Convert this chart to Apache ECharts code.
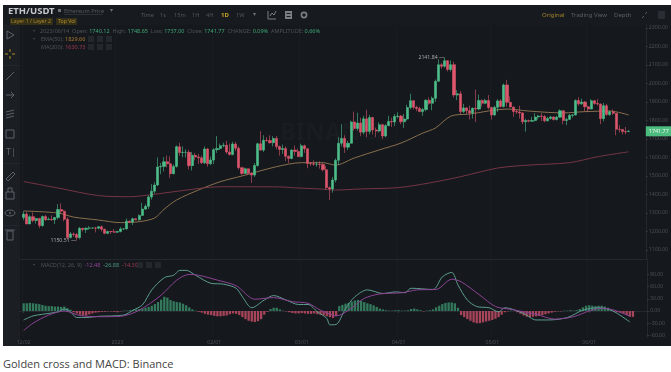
<!DOCTYPE html>
<html>
<head>
<meta charset="utf-8">
<title>Golden cross and MACD</title>
<script src="https://cdn.jsdelivr.net/npm/echarts@6/dist/echarts.min.js"></script>
<style>
html,body{margin:0;padding:0;background:#fff;}
#chart{position:absolute;left:0;top:0;width:671px;height:346px;filter:blur(0.6px);}
#caption{position:absolute;left:3px;top:356px;margin:0;font:11px "Open Sans",sans-serif;color:#444;}
</style>
</head>
<body>
<div id="chart"></div>
<p id="caption">Golden cross and MACD: Binance</p>
<script>
/* daily candles, first one is 2022/12/02 */
const opens=[1275,1294,1241,1280,1259,1270,1232,1281,1264,1266,1263,1275,1319,1310,1266,1167,1187,1184,1167,1217,1211,1218,1219,1219,1218,1226,1212,1190,1200,1199,
1196,1200,1214,1214,1256,1251,1269,1263,1287,1321,1336,1386,1418,1451,1549,1552,1577,1566,1512,1552,1658,1627,1628,1628,1556,1612,1603,1598,1571,1646,1566,
1586,1642,1649,1663,1666,1630,1616,1673,1650,1545,1514,1539,1515,1505,1557,1674,1640,1693,1692,1680,1703,1659,1643,1649,1607,1595,1640,1633,
1605,1663,1647,1568,1566,1564,1564,1562,1534,1437,1430,1478,1585,1677,1703,1656,1677,1792,1757,1786,1737,1809,1741,1816,1749,1743,1777,1716,1772,1795,1792,
1822,1824,1793,1808,1870,1907,1871,1865,1848,1859,1909,1893,1920,2012,2101,2093,2123,2076,2102,1938,1944,1848,1868,1853,1841,1866,1862,1908,1893,1908,
1870,1830,1871,1906,1876,1992,1898,1873,1849,1846,1841,1793,1800,1796,1800,1819,1824,1822,1798,1811,1819,1805,1818,1853,1800,1806,1828,1830,1908,1890,1900,
1874,1862,1907,1892,1889,1810,1880,1832,1847,1839,1753,1752,1740,1740.12];
const closes=[1294,1241,1280,1259,1270,1232,1281,1264,1266,1263,1275,1319,1310,1266,1167,1187,1184,1167,1217,1211,1218,1219,1219,1218,1226,1212,1190,1200,1199,1196,
1200,1214,1214,1256,1251,1269,1263,1287,1321,1336,1386,1418,1451,1549,1552,1577,1566,1512,1552,1658,1627,1628,1628,1556,1612,1603,1598,1571,1646,1566,1586,
1642,1649,1663,1666,1630,1616,1673,1650,1545,1514,1539,1515,1505,1557,1674,1640,1693,1692,1680,1703,1659,1643,1649,1607,1595,1640,1633,1605,
1663,1647,1568,1566,1564,1564,1562,1534,1437,1430,1478,1585,1677,1703,1656,1677,1792,1757,1786,1737,1809,1741,1816,1749,1743,1777,1716,1772,1795,1792,1822,
1824,1793,1808,1870,1907,1871,1865,1848,1859,1909,1893,1920,2012,2101,2093,2123,2076,2102,1938,1944,1848,1868,1853,1841,1866,1862,1908,1893,1908,1870,
1830,1871,1906,1876,1992,1898,1873,1849,1846,1841,1793,1800,1796,1800,1819,1824,1822,1798,1811,1819,1805,1818,1853,1800,1806,1828,1830,1908,1890,1900,1874,
1862,1907,1892,1889,1810,1880,1832,1847,1839,1753,1752,1740,1738,1741.77];
const lows=[1261,1238,1240,1250,1243,1218,1225,1257,1262,1258,1240,1265,1298,1255,1156,1163,1172,1150.51,1158,1200,1192,1210,1215,1195,1212,1200,1185,1185,1187,1192,
1192,1195,1208,1212,1245,1235,1261,1259,1285,1316,1322,1372,1405,1446,1510,1525,1546,1490,1510,1545,1610,1601,1600,1535,1530,1585,1565,1565,1565,1550,1560,
1564,1625,1640,1655,1620,1610,1612,1635,1535,1505,1510,1505,1462,1495,1550,1635,1630,1685,1675,1660,1645,1610,1620,1580,1570,1590,1610,1602,
1600,1625,1542,1555,1555,1550,1540,1525,1425,1370,1410,1465,1560,1660,1625,1640,1675,1745,1745,1715,1725,1710,1725,1725,1710,1735,1700,1710,1770,1765,1770,
1812,1780,1760,1800,1860,1860,1850,1845,1825,1850,1885,1855,1900,2010,2080,2086,2065,2065,1925,1910,1835,1840,1835,1805,1810,1792,1855,1875,1888,1860,
1805,1825,1845,1870,1870,1875,1870,1820,1835,1810,1780,1740,1790,1792,1795,1805,1797,1790,1795,1805,1800,1800,1815,1780,1775,1803,1816,1827,1880,1885,1850,
1845,1860,1885,1880,1780,1795,1825,1825,1830,1720,1735,1725,1725,1737];
const highs=[1310,1306,1288,1303,1274,1274,1286,1290,1276,1287,1279,1348,1352,1315,1277,1197,1195,1192,1225,1220,1222,1229,1222,1225,1230,1232,1216,1205,1203,1214,
1204,1224,1218,1270,1260,1274,1272,1292,1355,1347,1396,1456,1466,1600,1570,1602,1610,1606,1562,1665,1680,1660,1644,1642,1630,1625,1620,1610,1660,1651,1605,
1650,1716,1675,1680,1690,1675,1685,1685,1660,1550,1545,1540,1520,1570,1680,1742,1720,1710,1720,1715,1717,1665,1670,1660,1610,1645,1665,1648,
1675,1670,1650,1575,1585,1578,1580,1570,1555,1445,1495,1595,1710,1780,1720,1690,1800,1848,1842,1815,1825,1858,1830,1820,1762,1790,1782,1780,1825,1815,1835,
1845,1830,1835,1885,1945,1910,1880,1875,1868,1915,1925,1930,2022,2130,2110,2141.84,2126,2125,2118,1965,1960,1890,1872,1880,1870,1967,1940,1915,1918,1938,
1875,1880,1915,1915,2000,2020,1930,1875,1858,1880,1845,1810,1805,1820,1840,1830,1840,1830,1820,1825,1822,1825,1860,1855,1815,1835,1835,1915,1925,1918,1905,
1880,1915,1910,1915,1892,1895,1890,1855,1860,1840,1775,1750,1765,1748.65];

/* the averages, read every few days: day number from the first candle, then price */
const emaDays=[0,11,16,24,31,37,42,45,49,56,63,70,81,89,96,100,106,114,121,128,132,137,143,155,162,173,180,188,194];
const emaValues=[1311,1300,1278,1262,1248,1253,1273,1320,1370,1424,1469,1500,1550,1572,1572,1559,1597,1641,1678,1732,1759,1824,1835,1862,1851,1841,1848,1851,1829.66];
const maDays=[0,11,24,34,40,50,63,82,88,95,100,108,120,130,140,152,162,175,184,194];
const maValues=[1470,1435,1394,1388,1397,1419,1442,1441,1435,1430,1424,1430,1437,1462,1496,1543,1559,1572,1604,1630.73];

/* macd pane */
const macdBars=[19,19,20,19,18,17,15,13,12,12,11,11,10,11,7,3,-3,-6,-9,-11,-11,-8,-6,-4,-3,-2,-2,-1,-1,-2,-2,-1,1,
1,2,3,4,5,6,8,10,13,17,22,28,35,33,27,24,22,21,18,14,9,4,1,
-2,-4,-7,-9,-10,-12,-13,-13,-12,-11,-8,-6,-7,-10,-15,-20,-24,-26,-27,-25,-20,-9,-2,5,8,8,4,1,
-1,-3,-5,-6,-6,-5,-6,-7,-7,-6,-8,-9,-11,-13,-15,-17,-12,
12,15,18,20,23,26,27,25,22,19,17,14,10,6,4,2,1,1,2,2,1,1,2,5,6,4,2,-1,1,2,4,9,13,17,20,21,21,19,8,
-10,-15,-20,-24,-28,-30,-30,-28,-26,-24,-22,-19,-15,-9,-3,-1,1,0,-3,-7,-11,-14,-15,-14,-13,-12,-10,-8,-6,-4,-2,-1,-1,
1,1,2,1,2,5,9,13,14,13,12,13,13,11,8,4,-2,-3,-4,-6,-10,-14,-14.39];
const difDays=[0,3,6,11,13,15,17,20,24,32,35,38,41,45,48,50,52,55,60,64,68,70,73,77,80,84,88,91,94,97,98,100,103,106,110,115,119,122,124,131,134,137,139,142,145,149,152,154,160,164,168,174,179,184,187,190,194];
const difValues=[-22,-12,-8,-2,5,-2,-16,-16,-13,-10,2,15,52,82,88,100,100,88,68,66,56,35,8,27,38,27,16,16,-2,-18,-34,-33,6,35,52,43,47,45,56,53,84,95,64,27,11,8,-2,8,-6,-22,-22,-16,2,8,5,-6,-26.88];
const deaDays=[0,3,8,13,18,24,31,37,44,49,53,56,62,68,74,80,86,91,95,99,100,104,109,114,121,126,132,137,140,146,151,156,164,170,176,181,185,189,194];
const deaValues=[-48,-30,-10,0,-11,-14,-13,2,39,76,90,88,76,62,29,33,23,19,2,-10,-12,2,31,42,45,52,53,78,72,39,11,4,-8,-20,-14,0,7,2,-12.48];

const priceTicks=[1100,1200,1300,1400,1500,1600,1700,1800,1900,2000,2100,2200,2300];
const macdTicks=[-60,-30,0,30,60,90];
const dateTicks=["2022/12/02","2023/01/01","2023/02/01","2023/03/01","2023/04/01","2023/05/01","2023/06/01"];
const dateLabels=["12/02","2023","02/01","03/01","04/01","05/01","06/01"];

const UP="#4dbd89";
const DOWN="#dc566c";
const AXIS="#4d5258";
const LEAD=1;   // empty day before the first candle
const TRAIL=5;  // empty days after the last one

function buildDays(){
    const days=[];
    const start=Date.UTC(2022,11,1);
    for(let i=0;i<LEAD+opens.length+TRAIL;i++){
        days.push(new Date(start+i*86400000).toISOString().slice(0,10).replace(/-/g,"/"));
    }
    return days;
}
const days=buildDays();

const pad=Array(LEAD).fill("-");
const candles=pad.concat(opens.map((o,i)=>[o,closes[i],lows[i],highs[i]]));
const bars=pad.concat(macdBars.map(v=>({
    value:v,
    itemStyle:{color:v>=0?"#337a5d":"#a8455a"}
})));
const pairs=(d,v)=>d.map((x,i)=>[x+LEAD,v[i]]);
const lastDay=days[LEAD+opens.length-1];
const highDay=days[LEAD+highs.indexOf(Math.max(...highs))];
const lowDay=days[LEAD+lows.indexOf(Math.min(...lows))];

/* page furniture: header, left toolbar, legends */
function txt(text,x,y,fill,size,extra){
    return {type:"text",silent:true,z:10,style:Object.assign({
        text,x,y,fill,
        font:(size||6)+'px "Noto Sans",sans-serif',
        verticalAlign:"middle"
    },extra||{})};
}
function box(x,y,w,h,fill,z){
    return {type:"rect",silent:true,z:z===undefined?10:z,shape:{x,y,width:w,height:h},style:{fill}};
}
function path(points,stroke,closed){
    return {type:closed?"polygon":"polyline",silent:true,z:10,shape:{points},style:{stroke,fill:null,lineWidth:1}};
}
function rich(text,x,y,colors){
    const styles={};
    Object.keys(colors).forEach(k=>{
        styles[k]={fill:colors[k],font:'5.5px "Noto Sans",sans-serif'};
    });
    return {type:"text",silent:true,z:10,style:{x,y,verticalAlign:"middle",font:'5.5px "Noto Sans",sans-serif',text,rich:styles}};
}
const ICON="#5d6268";
const furniture=[
    box(3,5,668,341,"#15181c",-2),
    box(3,25,17,321,"#1b1f24",-1),
    box(3,5,668,20,"#171a1f",-1),
    txt("ETH/USDT",8,11,"#c4c7cb",9.5,{font:'bold 9.5px "Noto Sans",sans-serif'}),
    box(58,9,3,3,"#6d7278"),
    txt("Ethereum Price",64,11,"#565b61",5.6),
    box(64,14,39,0.6,"#464b50"),
    txt("▾",110,10,"#6d7278",5.5),
    box(10,18,43,7,"#342f17",0),
    txt("Layer 1 / Layer 2",11,21.5,"#a5852a",5.2),
    box(56,18,21,7,"#342f17",0),
    txt("Top Vol",58,21.5,"#b28f28",5.2),
    txt("Time",141,15,"#53585e",5.6),
    txt("1s",160,15,"#53585e",5.6),
    txt("15m",174,15,"#53585e",5.6),
    txt("1H",192,15,"#53585e",5.6),
    txt("4H",206,15,"#53585e",5.6),
    txt("1D",221,15,"#c9a227",6,{font:'bold 6px "Noto Sans",sans-serif'}),
    txt("1W",236,15,"#53585e",5.6),
    txt("▾",253,14.5,"#6d7278",5.5),
    path([[268,11],[268,19],[276,19]],"#7b8086"),
    path([[270,16],[272,13],[274,15],[276,11]],"#7b8086"),
    box(285,11,7,8,"#7b8086"),
    box(286.5,13,4,1,"#171a1f"),
    box(286.5,16,4,1,"#171a1f"),
    {type:"circle",silent:true,z:10,shape:{cx:304,cy:15,r:2.6},style:{stroke:"#7b8086",fill:null,lineWidth:1.6}},
    txt("Original",542,15,"#a5852a",6),
    txt("Trading View",571,15,"#5b6066",6),
    txt("Depth",614,15,"#5b6066",6),
    path([[642,18],[644,16]],"#53585e"),
    path([[645,14],[647,12]],"#53585e"),
    box(658,11,7,8,"#2a2e34"),

    path([[7,31],[7,39],[14,35]],ICON,true),
    path([[10,49],[10,52]],"#b08f25"),
    path([[10,56],[10,59]],"#b08f25"),
    path([[5,54],[8,54]],"#b08f25"),
    path([[12,54],[15,54]],"#b08f25"),
    box(3,65,17,1,"#23272d"),
    path([[6,80],[14,72]],ICON),
    path([[6,95],[14,95]],ICON),
    path([[11,92],[14,95],[11,98]],ICON),
    path([[6,112],[14,110]],ICON),
    path([[6,115],[14,113]],ICON),
    path([[6,118],[14,116]],ICON),
    path([[6,130],[14,130],[14,138],[6,138]],ICON,true),
    txt("T|",6,152,ICON,9),
    box(3,163,17,1,"#23272d"),
    path([[6,179],[13,172],[15,174],[8,181]],ICON,true),
    path([[6,192],[14,192],[14,199],[6,199]],ICON,true),
    path([[8,192],[8,188],[12,188],[12,192]],ICON),
    {type:"ellipse",silent:true,z:10,shape:{cx:10,cy:213,rx:5,ry:3},style:{stroke:ICON,fill:null}},
    {type:"circle",silent:true,z:10,shape:{cx:10,cy:213,r:1},style:{fill:ICON}},
    box(3,225,17,1,"#23272d"),
    path([[7,231],[13,231],[13,240],[7,240]],ICON,true),
    path([[5,230],[15,230]],ICON),

    txt("•",33,31,"#5b6066",5.5),
    rich("{g|2023/06/14  Open: }{v|1740.12}{g|  High: }{v|1748.65}{g|  Low: }{v|1737.00}{g|  Close: }{v|1741.77}{g|  CHANGE: }{v|0.09%}{g|  AMPLITUDE: }{v|0.66%}",40,31,{g:"#4f545a",v:"#3fa878"}),
    txt("•",33,39,"#5b6066",5.5),
    rich("{g|EMA(50): }{v|1829.66}",41,39,{g:"#4f545a",v:"#a87830"}),
    rich("{g|MA(200): }{v|1630.73}",41,47,{g:"#4f545a",v:"#a03a50"}),
    box(88,36,6,6,"#24282d"),box(97,36,6,6,"#24282d"),box(106,36,6,6,"#24282d"),
    box(88,44,6,6,"#24282d"),box(97,44,6,6,"#24282d"),box(106,44,6,6,"#24282d"),
    txt("•",33,265,"#5b6066",5.5),
    rich("{g|MACD(12, 26, 9)  }{p|-12.48}{g|  }{t|-26.88}{g|  }{r|-14.39}",41,265,{g:"#4f545a",p:"#93449c",t:"#4a9482",r:"#a03a50"}),
    box(137,262,6,6,"#24282d"),box(146,262,6,6,"#24282d"),box(155,262,6,6,"#24282d"),
    txt("BINANCE",280,133,"rgba(255,255,255,0.02)",24,{font:'bold 24px "Noto Sans",sans-serif'})
];

const chart=echarts.init(document.getElementById("chart"),null,{renderer:"canvas"});

const sharedX={
    type:"category",
    data:days,
    boundaryGap:true,
    axisLine:{lineStyle:{color:"#25292f"}},
    axisTick:{show:false},
    axisLabel:{show:false},
    splitLine:{
        show:true,
        interval:(i,v)=>dateTicks.includes(v),
        lineStyle:{color:"rgba(255,255,255,0.018)"}
    }
};

chart.setOption({
    animation:false,
    backgroundColor:"#fff",
    graphic:furniture,
    grid:[
        {left:19,width:628,top:25,height:234},
        {left:19,width:628,top:259,height:78}
    ],
    xAxis:[
        Object.assign({},sharedX,{gridIndex:0}),
        Object.assign({},sharedX,{
            gridIndex:1,
            axisTick:{
                show:true,
                length:2,
                interval:(i,v)=>dateTicks.includes(v),
                alignWithLabel:true,
                lineStyle:{color:"#33383e"}
            },
            axisLabel:{
                show:true,
                interval:(i,v)=>dateTicks.includes(v),
                formatter:v=>dateLabels[dateTicks.indexOf(v)]||"",
                color:AXIS,
                fontSize:5.2,
                margin:3,
                fontFamily:"Noto Sans"
            }
        })
    ],
    yAxis:[
        {
            type:"value",
            gridIndex:0,
            position:"right",
            min:1051.35,
            max:2316.2,
            axisLine:{show:true,lineStyle:{color:"#25292f"}},
            axisTick:{show:true,length:2,customValues:priceTicks,lineStyle:{color:"#33383e"}},
            axisLabel:{customValues:priceTicks,formatter:v=>v.toFixed(2),color:AXIS,fontSize:5.2,margin:3,fontFamily:"Noto Sans"},
            splitLine:{show:false}
        },
        {
            type:"value",
            gridIndex:1,
            position:"right",
            min:-63.9,
            max:127.9,
            axisLine:{show:true,lineStyle:{color:"#25292f"}},
            axisTick:{show:true,length:2,customValues:macdTicks,lineStyle:{color:"#33383e"}},
            axisLabel:{customValues:macdTicks,formatter:v=>v.toFixed(2),color:AXIS,fontSize:5.2,margin:3,fontFamily:"Noto Sans"},
            splitLine:{show:false}
        }
    ],
    series:[
        {
            name:"ETH/USDT",
            type:"candlestick",
            xAxisIndex:0,
            yAxisIndex:0,
            barWidth:2.6,
            data:candles,
            itemStyle:{color:UP,color0:DOWN,borderColor:UP,borderColor0:DOWN,borderWidth:0.6},
            markPoint:{
                symbol:"circle",
                symbolSize:1,
                itemStyle:{color:"transparent"},
                label:{show:true,position:"left",distance:0,color:"#a6aaaf",fontSize:5.2,fontFamily:"Noto Sans"},
                data:[
                    {coord:[highDay,2141.84],label:{formatter:"2141.84 —"}},
                    {coord:[lowDay,1150.51],label:{formatter:"1150.51 —"}}
                ]
            }
        },
        {
            name:"EMA(50)",
            type:"line",
            xAxisIndex:0,
            yAxisIndex:0,
            data:pairs(emaDays,emaValues),
            smooth:0.3,
            showSymbol:false,
            z:1,
            lineStyle:{color:"#8a6f4e",width:1}
        },
        {
            name:"MA(200)",
            type:"line",
            xAxisIndex:0,
            yAxisIndex:0,
            data:pairs(maDays,maValues),
            smooth:0.3,
            showSymbol:false,
            z:1,
            lineStyle:{color:"#743644",width:1},
            markLine:{
                silent:true,
                symbol:"none",
                z:20,
                lineStyle:{color:"transparent",width:0},
                label:{
                    show:true,
                    position:"end",
                    distance:0,
                    formatter:"1741.77",
                    backgroundColor:"#4dbd7f",
                    color:"#e8f5ee",
                    fontSize:5.4,
                    padding:[2.5,3,2.5,3],
                    fontFamily:"Noto Sans"
                },
                data:[{yAxis:closes[closes.length-1]}]
            }
        },
        {
            name:"MACD",
            type:"bar",
            xAxisIndex:1,
            yAxisIndex:1,
            barWidth:2.3,
            data:bars
        },
        {
            name:"DIF",
            type:"line",
            xAxisIndex:1,
            yAxisIndex:1,
            data:pairs(difDays,difValues),
            smooth:0.3,
            showSymbol:false,
            lineStyle:{color:"#5c9c90",width:1}
        },
        {
            name:"DEA",
            type:"line",
            xAxisIndex:1,
            yAxisIndex:1,
            data:pairs(deaDays,deaValues),
            smooth:0.3,
            showSymbol:false,
            lineStyle:{color:"#8c4394",width:1}
        }
    ]
});
</script>
</body>
</html>
